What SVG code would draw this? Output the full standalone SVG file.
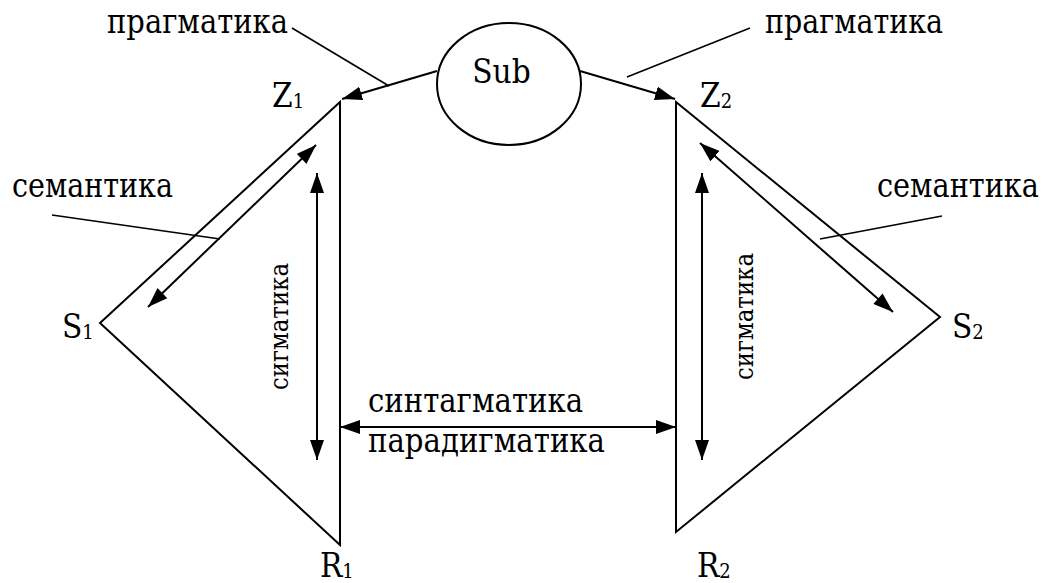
<svg xmlns="http://www.w3.org/2000/svg" width="1046" height="583" viewBox="0 0 1046 583">
<style>
text{font-family:'DejaVu Serif Condensed','DejaVu Serif',serif;fill:#000}
.t{font-size:33px}
.sub{font-size:20px}
.v{font-size:25.5px}
.ln{stroke:#000;stroke-width:2;fill:none}
.ld{stroke:#000;stroke-width:1.6;fill:none}
.ar{stroke:#000;stroke-width:2;fill:none;marker-end:url(#ah)}
.ar2{stroke:#000;stroke-width:2;fill:none;marker-start:url(#ahs);marker-end:url(#ah)}
</style>
<defs>
<marker id="ah" markerUnits="userSpaceOnUse" markerWidth="22" markerHeight="16" refX="20" refY="7" orient="auto">
<path d="M0,0 L20,7 L0,14 Z" fill="#000"/>
</marker>
<marker id="ahs" markerUnits="userSpaceOnUse" markerWidth="22" markerHeight="16" refX="0" refY="7" orient="auto">
<path d="M20,0 L0,7 L20,14 Z" fill="#000"/>
</marker>
</defs>
<rect width="1046" height="583" fill="#fff"/>
<g id="triangle-left">
<polygon class="ln" points="340,102 100,323 340,545"/>
</g>
<g id="triangle-right">
<polygon class="ln" points="676,102 940,317 676,532"/>
</g>
<g id="sub">
<ellipse class="ln" cx="509" cy="84" rx="72" ry="61"/>
<text class="t" x="501.5" y="83" text-anchor="middle">Sub</text>
</g>
<g id="z1"><text class="t" x="272" y="107">Z<tspan class="sub" dy="1">1</tspan></text></g>
<g id="z2"><text class="t" x="700" y="107">Z<tspan class="sub" dy="1">2</tspan></text></g>
<g id="s1"><text class="t" x="62" y="338">S<tspan class="sub" dy="1">1</tspan></text></g>
<g id="s2"><text class="t" x="952" y="338">S<tspan class="sub" dy="1">2</tspan></text></g>
<g id="r1"><text class="t" x="320" y="577">R<tspan class="sub" dy="1">1</tspan></text></g>
<g id="r2"><text class="t" x="697" y="577">R<tspan class="sub" dy="1">2</tspan></text></g>
<g id="labels">
<text class="t" x="107" y="33" textLength="181" lengthAdjust="spacingAndGlyphs">прагматика</text>
<text class="t" x="765" y="33" textLength="178" lengthAdjust="spacingAndGlyphs">прагматика</text>
<text class="t" x="12" y="197" textLength="161" lengthAdjust="spacingAndGlyphs">семантика</text>
<text class="t" x="877" y="197" textLength="162" lengthAdjust="spacingAndGlyphs">семантика</text>
<text class="v" transform="translate(288,390) rotate(-90)" textLength="127" lengthAdjust="spacingAndGlyphs">сигматика</text>
<text class="v" transform="translate(753,380) rotate(-90)" textLength="127" lengthAdjust="spacingAndGlyphs">сигматика</text>
<text class="t" x="368" y="412" textLength="215" lengthAdjust="spacingAndGlyphs">синтагматика</text>
<text class="t" x="368" y="452" textLength="237" lengthAdjust="spacingAndGlyphs">парадигматика</text>
</g>
<g id="connectors">
<line class="ar" x1="437" y1="71" x2="342" y2="99"/>
<line class="ar" x1="580" y1="71" x2="675" y2="99"/>
<line class="ar2" x1="148" y1="307" x2="316" y2="145"/>
<line class="ar2" x1="893" y1="312" x2="700" y2="143"/>
<line class="ar2" x1="317" y1="460" x2="317" y2="173"/>
<line class="ar2" x1="702" y1="460" x2="702" y2="173"/>
<line class="ar2" x1="340" y1="427" x2="676" y2="427"/>
<line class="ld" x1="292" y1="28" x2="389" y2="86"/>
<line class="ld" x1="750" y1="28" x2="627" y2="77"/>
<line class="ld" x1="52" y1="215" x2="220" y2="239"/>
<line class="ld" x1="942" y1="216" x2="820" y2="239"/>
</g>
</svg>
